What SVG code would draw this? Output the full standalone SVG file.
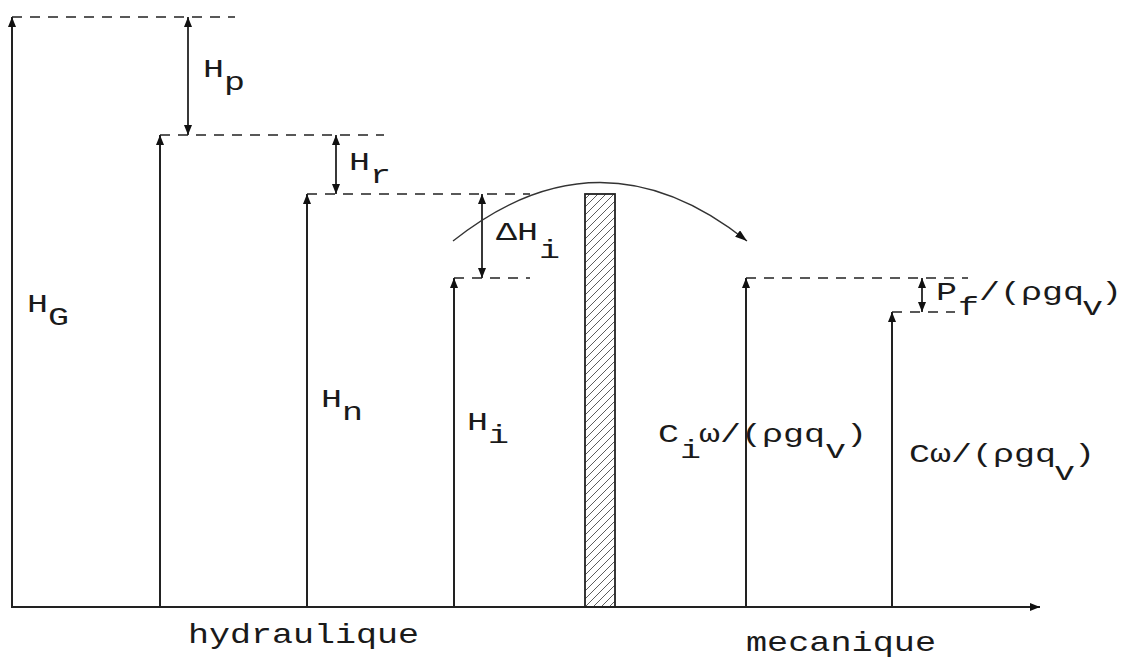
<svg xmlns="http://www.w3.org/2000/svg" width="1123" height="660" viewBox="0 0 1123 660">
  <style>
    .bar { stroke:#222; stroke-width:2; fill:none; }
    .dash { stroke:#222; stroke-width:1.6; fill:none; stroke-dasharray:10 8; }
    .dim { stroke:#222; stroke-width:1.8; fill:none; }
    .lbl { font-family:"Liberation Mono","Courier New",monospace; font-size:26px; fill:#1a1a1a; }
    .big { font-family:"Liberation Mono","Courier New",monospace; font-size:28px; fill:#1a1a1a; }
  </style>
  <defs>
    <marker id="ah" viewBox="0 0 10 8" refX="10" refY="4" markerWidth="10" markerHeight="8" markerUnits="userSpaceOnUse" orient="auto-start-reverse">
      <path d="M0,0 L10,4 L0,8 z" fill="#111"/>
    </marker>
    <marker id="ah2" viewBox="0 0 12 8" refX="12" refY="4" markerWidth="12" markerHeight="8" markerUnits="userSpaceOnUse" orient="auto">
      <path d="M0,0 L12,4 L0,8 z" fill="#111"/>
    </marker>
    <pattern id="hatch" patternUnits="userSpaceOnUse" width="8" height="8">
      <path d="M0,8 L8,0 M-2,2 L2,-2 M6,10 L10,6" stroke="#333" stroke-width="0.8"/>
    </pattern>
  </defs>
  <rect width="1123" height="660" fill="#fff"/>

  <g id="axes">
    <path class="bar" d="M12,17 L12,607 L1040,607" marker-start="url(#ah)" marker-end="url(#ah)"/>
    <text class="big" x="188" y="643" textLength="231" lengthAdjust="spacingAndGlyphs">hydraulique</text>
    <text class="big" x="746" y="651" textLength="190" lengthAdjust="spacingAndGlyphs">mecanique</text>
  </g>

  <g id="level-HG">
    <line class="dash" x1="12" y1="17" x2="235" y2="17"/>
    <text class="lbl" x="27" y="312" textLength="21" lengthAdjust="spacingAndGlyphs">H</text>
    <text class="lbl" x="48" y="325" textLength="21" lengthAdjust="spacingAndGlyphs">G</text>
  </g>

  <g id="level-Hn1">
    <line class="bar" x1="160" y1="607" x2="160" y2="135" marker-end="url(#ah)"/>
    <line class="dash" x1="160" y1="135" x2="384" y2="135"/>
  </g>

  <g id="level-Hn">
    <line class="bar" x1="307" y1="607" x2="307" y2="194" marker-end="url(#ah)"/>
    <line class="dash" x1="307" y1="194" x2="530" y2="194"/>
    <text class="lbl" x="321" y="407" textLength="21" lengthAdjust="spacingAndGlyphs">H</text>
    <text class="lbl" x="342" y="420" textLength="21" lengthAdjust="spacingAndGlyphs">n</text>
  </g>

  <g id="level-Hi">
    <line class="bar" x1="454" y1="607" x2="454" y2="278" marker-end="url(#ah)"/>
    <line class="dash" x1="454" y1="278" x2="530" y2="278"/>
    <text class="lbl" x="467" y="430" textLength="21" lengthAdjust="spacingAndGlyphs">H</text>
    <text class="lbl" x="488" y="443" textLength="21" lengthAdjust="spacingAndGlyphs">i</text>
  </g>

  <g id="rotor">
    <rect x="585" y="194" width="30" height="413" fill="url(#hatch)" stroke="#222" stroke-width="1.8"/>
  </g>

  <g id="level-Ci">
    <line class="bar" x1="746" y1="607" x2="746" y2="278" marker-end="url(#ah)"/>
    <line class="dash" x1="746" y1="278" x2="968" y2="278"/>
    <text class="lbl" x="658" y="442" textLength="21" lengthAdjust="spacingAndGlyphs">C</text>
    <text class="lbl" x="680" y="458" textLength="21" lengthAdjust="spacingAndGlyphs">i</text>
    <text class="lbl" x="699" y="442" textLength="126" lengthAdjust="spacingAndGlyphs">ω/(ρgq</text>
    <text class="lbl" x="825" y="458" textLength="21" lengthAdjust="spacingAndGlyphs">v</text>
    <text class="lbl" x="846" y="442" textLength="21" lengthAdjust="spacingAndGlyphs">)</text>
  </g>

  <g id="level-C">
    <line class="bar" x1="892" y1="607" x2="892" y2="312" marker-end="url(#ah)"/>
    <line class="dash" x1="892" y1="312" x2="955" y2="312"/>
    <text class="lbl" x="909" y="462" textLength="147" lengthAdjust="spacingAndGlyphs">Cω/(ρgq</text>
    <text class="lbl" x="1054" y="480" textLength="21" lengthAdjust="spacingAndGlyphs">v</text>
    <text class="lbl" x="1074" y="462" textLength="21" lengthAdjust="spacingAndGlyphs">)</text>
  </g>

  <g id="connectors">
    <line class="dim" x1="188" y1="17" x2="188" y2="135" marker-start="url(#ah)" marker-end="url(#ah)"/>
    <line class="dim" x1="336" y1="135" x2="336" y2="194" marker-start="url(#ah)" marker-end="url(#ah)"/>
    <line class="dim" x1="482" y1="194" x2="482" y2="278" marker-start="url(#ah)" marker-end="url(#ah)"/>
    <line class="dim" x1="922" y1="278" x2="922" y2="312" marker-start="url(#ah)" marker-end="url(#ah)"/>
    <path d="M453,241 Q600,124 747,241" fill="none" stroke="#333" stroke-width="1.3" marker-end="url(#ah2)"/>
    <text class="lbl" x="203" y="77" textLength="21" lengthAdjust="spacingAndGlyphs">H</text>
    <text class="lbl" x="224" y="90" textLength="21" lengthAdjust="spacingAndGlyphs">p</text>
    <text class="lbl" x="349" y="170" textLength="21" lengthAdjust="spacingAndGlyphs">H</text>
    <text class="lbl" x="370" y="183" textLength="21" lengthAdjust="spacingAndGlyphs">r</text>
    <text class="lbl" x="496" y="240" textLength="42" lengthAdjust="spacingAndGlyphs">ΔH</text>
    <text class="lbl" x="539" y="258" textLength="21" lengthAdjust="spacingAndGlyphs">i</text>
    <text class="lbl" x="936" y="300" textLength="21" lengthAdjust="spacingAndGlyphs">P</text>
    <text class="lbl" x="958" y="315" textLength="21" lengthAdjust="spacingAndGlyphs">f</text>
    <text class="lbl" x="979" y="300" textLength="105" lengthAdjust="spacingAndGlyphs">/(ρgq</text>
    <text class="lbl" x="1082" y="315" textLength="21" lengthAdjust="spacingAndGlyphs">v</text>
    <text class="lbl" x="1101" y="300" textLength="21" lengthAdjust="spacingAndGlyphs">)</text>
  </g>
</svg>
